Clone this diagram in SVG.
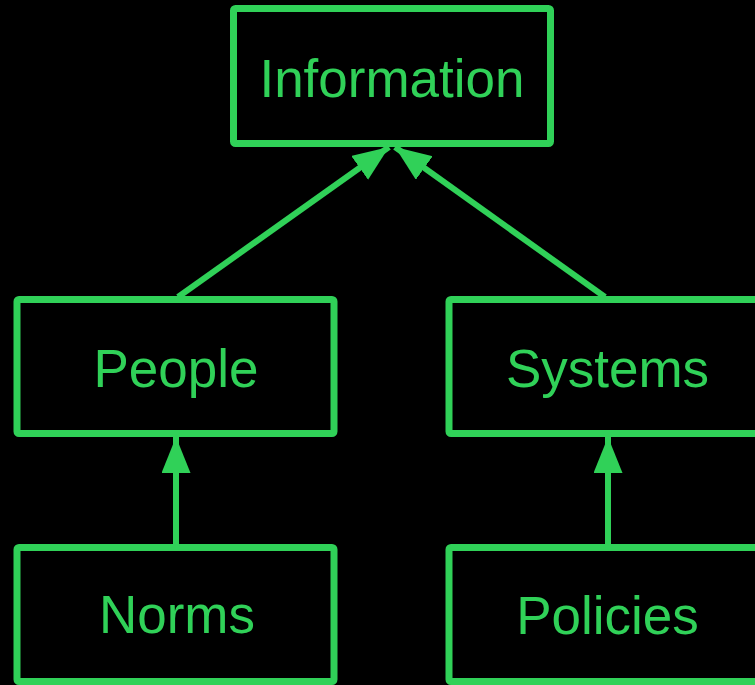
<svg xmlns="http://www.w3.org/2000/svg" width="755" height="685" viewBox="0 0 755 685">
<style>
.box{fill:none;stroke:#30D158;stroke-width:7;stroke-linejoin:round}
.lbl{fill:#30D158;font-family:"Liberation Sans",Arial,sans-serif;font-size:53px;text-anchor:middle}
.edge{stroke:#30D158;stroke-width:6;fill:none}
</style>
<defs>
<marker id="arr" markerUnits="userSpaceOnUse" markerWidth="37" markerHeight="30" refX="36" refY="14.5" orient="auto">
<path d="M0,0 L36,14.5 L0,29 Z" fill="#30D158"/>
</marker>
</defs>
<rect width="755" height="685" fill="#000"/>
<g id="connectors">
<line class="edge" x1="178" y1="297" x2="389" y2="147" marker-end="url(#arr)"/>
<line class="edge" x1="605" y1="297" x2="395" y2="147" marker-end="url(#arr)"/>
<line class="edge" x1="176" y1="545" x2="176" y2="437" marker-end="url(#arr)"/>
<line class="edge" x1="608" y1="545" x2="608" y2="437" marker-end="url(#arr)"/>
</g>
<g id="information">
<rect class="box" x="233.5" y="8.5" width="317" height="135" rx="2"/>
<text class="lbl" x="392" y="97">Information</text>
</g>
<g id="people">
<rect class="box" x="17" y="299.5" width="317" height="134" rx="2"/>
<text class="lbl" x="176" y="387">People</text>
</g>
<g id="systems">
<rect class="box" x="449" y="299.5" width="317" height="134" rx="2"/>
<text class="lbl" x="607.5" y="387">Systems</text>
</g>
<g id="norms">
<rect class="box" x="17" y="547.5" width="317" height="134" rx="2"/>
<text class="lbl" x="177" y="633">Norms</text>
</g>
<g id="policies">
<rect class="box" x="449" y="547.5" width="317" height="134" rx="2"/>
<text class="lbl" x="607.5" y="634">Policies</text>
</g>
</svg>
